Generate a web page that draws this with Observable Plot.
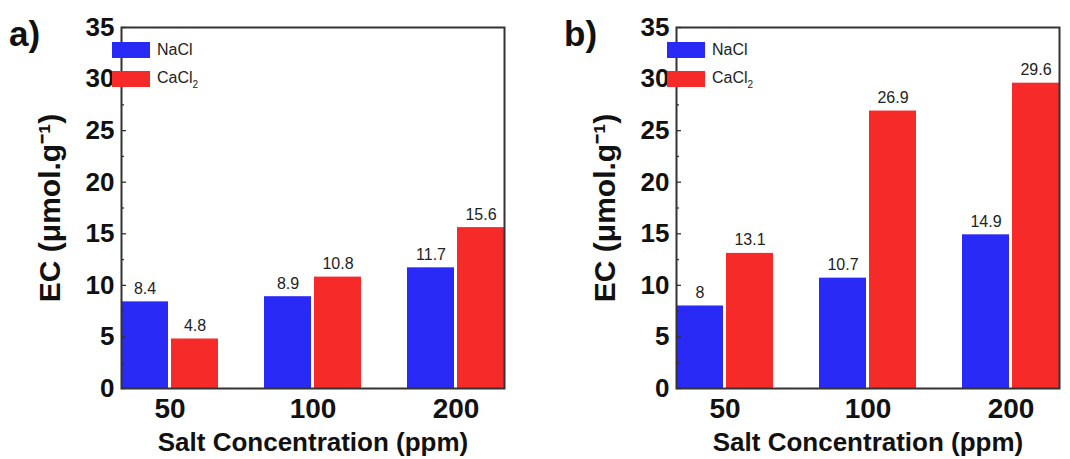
<!DOCTYPE html>
<html>
<head>
<meta charset="utf-8">
<script src="https://cdn.jsdelivr.net/npm/d3@7"></script>
<script src="https://cdn.jsdelivr.net/npm/@observablehq/plot@0.6"></script>
<style>
  html, body { margin: 0; padding: 0; background: #fff; }
  body { font-family: "Liberation Sans", Arial, sans-serif; }
  #figure { position: relative; width: 1070px; height: 459px; overflow: hidden; display: flex; }
  .panel { position: relative; width: 555px; height: 459px; flex: 0 0 555px; }
  .panel svg { display: block; overflow: visible; }
  .letter { position: absolute; left: 9px; top: 16px; font-size: 35px; font-weight: bold; line-height: 35px; color: #111; }
  .legend { position: absolute; left: 112px; top: 42px; font-size: 16px; color: #222; }
  .legend .row { display: flex; align-items: center; height: 16px; margin-bottom: 13px; }
  .legend .sw { width: 38px; height: 16px; margin-right: 7px; }
  .legend sub { font-size: 10px; vertical-align: -5px; }
</style>
</head>
<body>
<div id="figure"></div>
<script>
// Salt concentrations (ppm) on the x axis, and the two salts compared in each group
const concentrations = ["50", "100", "200"];
const salts = ["NaCl", "CaCl2"];
const saltLabels = ["NaCl", "CaCl<sub>2</sub>"];
const saltColors = ["#2a2af6", "#f72a2a"];

// EC values (µmol.g-1) for panel a)
const panelA_NaCl = [8.4, 8.9, 11.7];
const panelA_CaCl2 = [4.8, 10.8, 15.6];

// EC values (µmol.g-1) for panel b)
const panelB_NaCl = [8, 10.7, 14.9];
const panelB_CaCl2 = [13.1, 26.9, 29.6];

// Axis ticks
const yMajorTicks = [0, 5, 10, 15, 20, 25, 30, 35];
const yMinorTicks = [2.5, 7.5, 12.5, 17.5, 22.5, 27.5, 32.5];

const yLabel = "EC (\u03bcmol.g\u207b\u00b9)";
const xLabel = "Salt Concentration (ppm)";

function rowsFor(naclValues, cacl2Values) {
  const rows = [];
  concentrations.forEach((c, i) => {
    rows.push({conc: c, salt: "NaCl", ec: naclValues[i]});
    rows.push({conc: c, salt: "CaCl2", ec: cacl2Values[i]});
  });
  return rows;
}

function panel(letter, rows) {
  const font = "'Liberation Sans', Arial, sans-serif";
  const chart = Plot.plot({
    width: 555,
    height: 459,
    marginLeft: 97,
    marginRight: 28,
    marginTop: 27,
    marginBottom: 71,
    style: {fontFamily: font, color: "#111", background: "transparent"},
    fx: {domain: concentrations, paddingInner: 0.323, paddingOuter: 0.1615, label: null, axis: null},
    x: {domain: salts, paddingInner: 0.06, paddingOuter: 0, axis: null},
    y: {domain: [0, 35], label: null},
    color: {domain: salts, range: saltColors},
    marks: [
      Plot.barY(rows, {fx: "conc", x: "salt", y: "ec", fill: "salt"}),
      Plot.text(rows, {
        fx: "conc", x: "salt", y: "ec", text: d => String(d.ec),
        lineAnchor: "bottom", dy: -8, fontSize: 16, fill: "#222"
      }),
      Plot.axisY({
        ticks: yMajorTicks, tickSize: -5, tickPadding: 12, tickFormat: d => d,
        fontSize: 26, fontWeight: "bold", strokeWidth: 1.3, stroke: "#333", label: null
      }),
      Plot.axisY({
        ticks: yMinorTicks, tickSize: -3, text: null, strokeWidth: 1.3, stroke: "#333", label: null
      }),
      Plot.axisFx({
        anchor: "bottom", tickSize: 0, tickPadding: 10, fontSize: 28, fontWeight: "bold", label: null
      }),
      Plot.frame({facet: "super", stroke: "#333", strokeWidth: 2}),
      Plot.text([yLabel], {
        facet: "super", frameAnchor: "left", text: d => d, rotate: -90, textAnchor: "middle",
        lineAnchor: "middle", dx: -71, fontSize: 30, fontWeight: "bold", fill: "#111"
      }),
      Plot.text([xLabel], {
        facet: "super", frameAnchor: "bottom", text: d => d, textAnchor: "middle",
        lineAnchor: "middle", dy: 54, fontSize: 26, fontWeight: "bold", fill: "#111"
      })
    ]
  });

  const div = document.createElement("div");
  div.className = "panel";
  div.appendChild(chart);

  const tag = document.createElement("div");
  tag.className = "letter";
  tag.textContent = letter;
  div.appendChild(tag);

  const legend = document.createElement("div");
  legend.className = "legend";
  salts.forEach((s, i) => {
    const row = document.createElement("div");
    row.className = "row";
    row.innerHTML = `<span class="sw" style="background:${saltColors[i]}"></span><span>${saltLabels[i]}</span>`;
    legend.appendChild(row);
  });
  div.appendChild(legend);
  return div;
}

const fig = document.getElementById("figure");
fig.appendChild(panel("a)", rowsFor(panelA_NaCl, panelA_CaCl2)));
fig.appendChild(panel("b)", rowsFor(panelB_NaCl, panelB_CaCl2)));
</script>
</body>
</html>
